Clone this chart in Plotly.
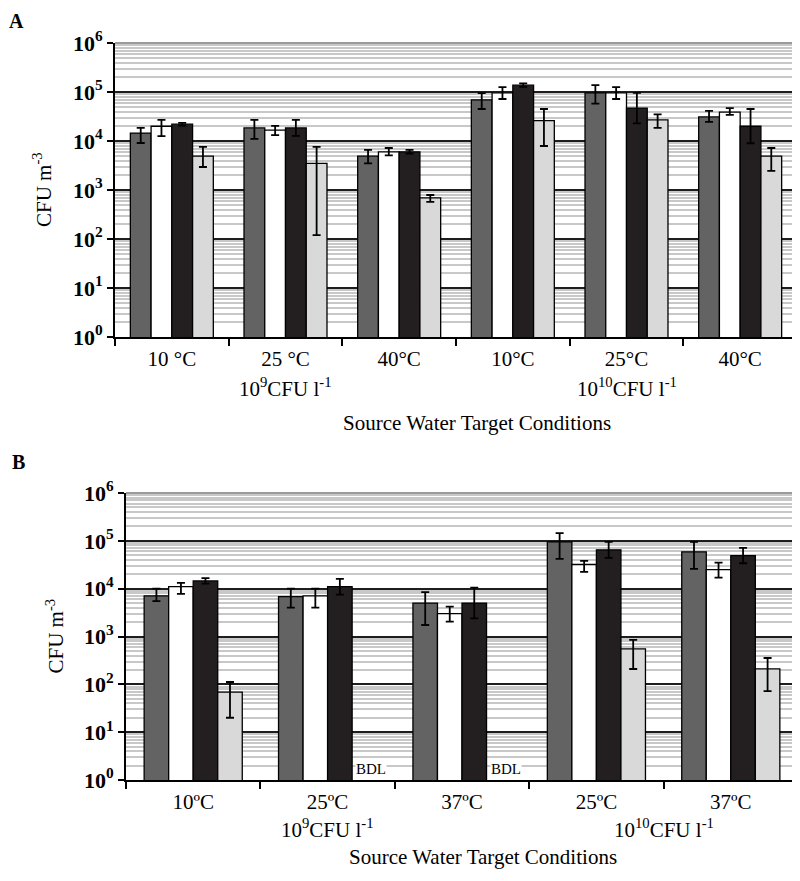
import plotly.graph_objects as go

# ---------------- data ----------------
temps_a = ["10 °C", "25 °C", "40°C", "10°C", "25°C", "40°C"]
temps_b = ["10ºC", "25ºC", "37ºC", "25ºC", "37ºC"]

# Panel A (CFU m^-3)
a_s1 = [1.45e4, 1.85e4, 4.9e3, 6.9e4, 9.6e4, 3.1e4]
a_s1_hi = [1.86e4, 2.7e4, 6.6e3, 9.5e4, 1.38e5, 4.1e4]
a_s1_lo = [9.1e3, 1.1e4, 3.5e3, 4.5e4, 5.8e4, 2.45e4]

a_s2 = [2.0e4, 1.66e4, 6.0e3, 9.6e4, 9.6e4, 3.9e4]
a_s2_hi = [2.7e4, 2.04e4, 7.2e3, 1.26e5, 1.26e5, 4.7e4]
a_s2_lo = [1.26e4, 1.32e4, 5.1e3, 7.2e4, 7.2e4, 3.4e4]

a_s3 = [2.2e4, 1.85e4, 6.0e3, 1.38e5, 4.7e4, 2.0e4]
a_s3_hi = [2.35e4, 2.7e4, 6.6e3, 1.5e5, 9.6e4, 4.5e4]
a_s3_lo = [2.06e4, 1.27e4, 5.5e3, 1.27e5, 2.3e4, 9.0e3]

a_s4 = [4.9e3, 3.5e3, 690, 2.6e4, 2.7e4, 4.9e3]
a_s4_hi = [7.6e3, 7.6e3, 790, 4.5e4, 3.5e4, 7.2e3]
a_s4_lo = [2.95e3, 120, 575, 7.9e3, 1.86e4, 2.45e3]

# Panel B (CFU m^-3); None = below detection limit (BDL)
b_s1 = [7.1e3, 6.8e3, 5.0e3, 9.5e4, 5.9e4]
b_s1_hi = [1.0e4, 1.0e4, 8.5e3, 1.45e5, 9.5e4]
b_s1_lo = [5.5e3, 4.0e3, 1.74e3, 4.2e4, 2.6e4]

b_s2 = [1.1e4, 7.1e3, 3.0e3, 3.2e4, 2.5e4]
b_s2_hi = [1.32e4, 1.0e4, 4.2e3, 3.8e4, 3.5e4]
b_s2_lo = [7.8e3, 4.0e3, 2.04e3, 2.24e4, 1.7e4]

b_s3 = [1.45e4, 1.1e4, 5.0e3, 6.5e4, 4.9e4]
b_s3_hi = [1.66e4, 1.6e4, 1.05e4, 9.5e4, 7.1e4]
b_s3_lo = [1.27e4, 7.5e3, 2.4e3, 4.4e4, 3.4e4]

b_s4 = [69, None, None, 550, 210]
b_s4_hi = [112, None, None, 850, 355]
b_s4_lo = [20, None, None, 209, 72]

conc_labels = ["10<sup>9</sup>CFU l<sup>-1</sup>", "10<sup>10</sup>CFU l<sup>-1</sup>"]
conc_pos_a = [1, 4]
conc_pos_b = [1, 3.5]

colors = ["#636363", "#ffffff", "#231f20", "#d9d9d9"]
SERIF = "Liberation Serif"

# page has an 8px body margin: figure is sized/positioned to compensate
OFF = 8
W, H = 800 - OFF, 881 - OFF


def px(xp):
    return (xp - OFF) / W


def py(yp):
    return 1 - (yp - OFF) / H


fig = go.Figure()


def add_panel(vals, his, los, xa, ya):
    n = len(vals[0])
    for k in range(4):
        v = vals[k]
        plus = [(h - m) if (m is not None and h is not None) else 0 for m, h in zip(v, his[k])]
        minus = [(m - l) if (m is not None and l is not None) else 0 for m, l in zip(v, los[k])]
        fig.add_trace(go.Bar(
            x=list(range(n)), y=v, xaxis=xa, yaxis=ya,
            marker=dict(color=colors[k], line=dict(color="black", width=1.3)),
            error_y=dict(type="data", symmetric=False, array=plus, arrayminus=minus,
                         color="black", thickness=1.8, width=4),
            showlegend=False, name=f"Series {k+1}",
        ))


add_panel([a_s1, a_s2, a_s3, a_s4], [a_s1_hi, a_s2_hi, a_s3_hi, a_s4_hi],
          [a_s1_lo, a_s2_lo, a_s3_lo, a_s4_lo], "x", "y")
add_panel([b_s1, b_s2, b_s3, b_s4], [b_s1_hi, b_s2_hi, b_s3_hi, b_s4_hi],
          [b_s1_lo, b_s2_lo, b_s3_lo, b_s4_lo], "x2", "y2")

ytickvals = [10 ** k for k in range(7)]
yticktext = [f"<b>10<sup>{k}</sup></b>" for k in range(7)]


def xaxis_cfg(domain, anchor, labels):
    n = len(labels)
    return dict(domain=domain, anchor=anchor, range=[-0.5, n - 0.5], automargin=False,
                tickmode="array", tickvals=list(range(n)), ticktext=labels,
                ticks="", showline=True, linecolor="black", linewidth=2,
                showgrid=False, zeroline=False, ticklabelstandoff=2,
                tickfont=dict(family=SERIF, size=21, color="black"),
                minor=dict(tickmode="array", tickvals=[i - 0.5 for i in range(n + 1)],
                           ticks="outside", ticklen=7, tickwidth=2, tickcolor="black",
                           showgrid=False))


def yaxis_cfg(domain, anchor):
    return dict(domain=domain, anchor=anchor, type="log", range=[0, 6], automargin=False,
                tickmode="array", tickvals=ytickvals, ticktext=yticktext,
                ticks="outside", ticklen=6, tickwidth=2, tickcolor="black",
                showline=True, linecolor="black", linewidth=2, zeroline=False,
                showgrid=True, gridcolor="#1e1e1e", gridwidth=1.5,
                tickfont=dict(family=SERIF, size=22, color="black"),
                minor=dict(dtick="D1", showgrid=True, gridcolor="#c8c8c8",
                           gridwidth=2, ticks=""))


fig.update_layout(
    template="none",
    width=W, height=H, margin=dict(l=0, r=0, t=0, b=0, autoexpand=False),
    paper_bgcolor="white", plot_bgcolor="white",
    barmode="group", bargap=0.27, bargroupgap=0,
    font=dict(family=SERIF, color="black"),
    xaxis=xaxis_cfg([px(115), px(797)], "y", temps_a),
    yaxis=yaxis_cfg([py(337), py(43)], "x"),
    xaxis2=xaxis_cfg([px(126), px(798)], "y2", temps_b),
    yaxis2=yaxis_cfg([py(780), py(493)], "x2"),
)

shapes = []
for xr, yr in [("x domain", "y domain"), ("x2 domain", "y2 domain")]:
    shapes.append(dict(type="line", xref=xr, yref=yr, x0=0, x1=1, y0=1, y1=1,
                       line=dict(color="#9a9a9a", width=2)))
    shapes.append(dict(type="line", xref=xr, yref=yr, x0=1, x1=1, y0=0, y1=1,
                       line=dict(color="#9a9a9a", width=2)))
fig.update_layout(shapes=shapes)

ann = []
# concentration labels
for lab, xp in zip(conc_labels, conc_pos_a):
    ann.append(dict(text=lab, x=xp, xref="x", y=0, yref="y domain", yshift=-50,
                    yanchor="middle", showarrow=False, font=dict(size=21)))
for lab, xp in zip(conc_labels, conc_pos_b):
    ann.append(dict(text=lab, x=xp, xref="x2", y=0, yref="y2 domain", yshift=-48,
                    yanchor="middle", showarrow=False, font=dict(size=21)))
# x titles
ann.append(dict(text="Source Water Target Conditions", x=px(477), xref="paper",
                y=0, yref="y domain", yshift=-86, yanchor="middle",
                showarrow=False, font=dict(size=21)))
ann.append(dict(text="Source Water Target Conditions", x=px(483), xref="paper",
                y=0, yref="y2 domain", yshift=-77, yanchor="middle",
                showarrow=False, font=dict(size=21)))
# y titles
ann.append(dict(text="CFU m<sup>-3</sup>", x=px(43), xref="paper", xanchor="center",
                y=0.5, yref="y domain", yanchor="middle",
                textangle=-90, showarrow=False, font=dict(size=21)))
ann.append(dict(text="CFU m<sup>-3</sup>", x=px(55), xref="paper", xanchor="center",
                y=0.5, yref="y2 domain", yanchor="middle",
                textangle=-90, showarrow=False, font=dict(size=21)))
# panel letters
ann.append(dict(text="<b>A</b>", x=px(16), xref="paper", y=py(8), yref="paper",
                xanchor="center", yanchor="top", showarrow=False, font=dict(size=20)))
ann.append(dict(text="<b>B</b>", x=px(18), xref="paper", y=py(462), yref="paper",
                xanchor="center", yanchor="middle", showarrow=False, font=dict(size=20)))
# BDL labels where the fourth series is below detection limit
bar_w = (1 - 0.27) / 4
for i, v in enumerate(b_s4):
    if v is None:
        ann.append(dict(text="BDL", x=i + 1.5 * bar_w, xref="x2", y=0, yref="y2",
                        xshift=7, yshift=2, yanchor="bottom", showarrow=False,
                        bgcolor="white", borderpad=0, font=dict(size=15)))
fig.update_layout(annotations=ann)

fig.write_html("out.html")
